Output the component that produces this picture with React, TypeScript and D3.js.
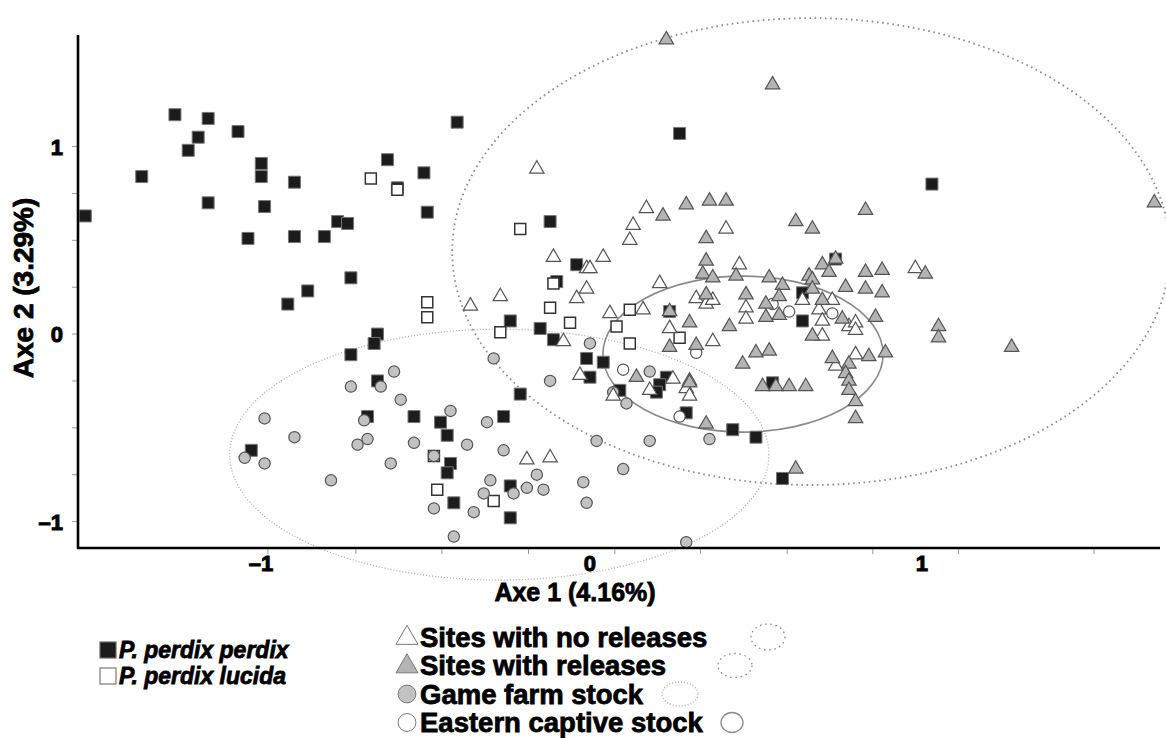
import React, { useEffect, useRef } from "react";
import * as d3 from "d3";

// P. perdix perdix (filled black squares)
const perdixPerdix: [number, number][] = [
  [-1.52, 0.63], [-1.25, 1.17], [-1.15, 1.15], [-1.18, 1.05], [-1.21, 0.98],
  [-1.06, 1.08], [-1.35, 0.84], [-0.99, 0.91], [-0.99, 0.84], [-0.89, 0.81],
  [-1.15, 0.7], [-0.98, 0.68], [-1.03, 0.51], [-0.89, 0.52], [-0.8, 0.52],
  [-0.76, 0.6], [-0.73, 0.59], [-0.85, 0.23], [-0.91, 0.16], [-0.72, 0.3],
  [-0.4, 1.13], [-0.61, 0.93], [-0.5, 0.86], [-0.58, 0.78], [-0.49, 0.65],
  [-0.12, 0.6], [-0.04, 0.37], [-0.1, 0.28], [-0.24, 0.07], [-0.15, 0.03],
  [-0.11, -0.03], [-0.64, 0.0], [-0.65, -0.05], [-0.72, -0.11], [-0.01, -0.13],
  [0.04, -0.15], [-0.64, -0.25], [-0.21, -0.32], [0.0, -0.23], [-0.67, -0.44],
  [-0.53, -0.44], [-0.45, -0.47], [-0.43, -0.54], [-0.26, -0.44], [-0.42, -0.69],
  [-0.43, -0.74], [-0.24, -0.81], [-0.41, -0.9], [-0.24, -0.98], [-1.02, -0.62],
  [0.27, 1.07], [1.03, 0.8], [0.74, 0.4], [0.64, 0.22], [0.24, 0.12],
  [0.23, -0.23], [0.21, -0.27], [0.2, -0.31], [0.09, -0.3], [0.29, -0.42],
  [0.43, -0.51], [0.5, -0.55], [0.58, -0.77], [0.64, 0.07], [0.55, -0.26],
];

// P. perdix lucida (open squares)
const perdixLucida: [number, number][] = [
  [-0.66, 0.83], [-0.58, 0.77], [-0.49, 0.17], [-0.49, 0.09], [-0.21, 0.56],
  [-0.11, 0.27], [-0.12, 0.14], [-0.06, 0.06], [-0.27, 0.01], [-0.47, -0.65],
  [-0.46, -0.83], [-0.29, -0.89], [0.12, 0.13], [0.08, 0.04], [0.27, -0.02],
  [0.12, -0.05],
];

// Sites with no releases (open triangles)
const noReleases: [number, number][] = [
  [-0.16, 0.88], [-0.11, 0.41], [0.04, 0.41], [-0.01, 0.35], [0.0, 0.35],
  [-0.01, 0.24], [-0.04, 0.19], [-0.27, 0.2], [-0.36, 0.15], [-0.08, -0.04],
  [-0.03, -0.22], [-0.19, -0.67], [-0.12, -0.66], [0.17, 0.67], [0.13, 0.58],
  [0.12, 0.5], [0.41, 0.56], [0.45, 0.37], [0.21, 0.27], [0.98, 0.35],
  [0.32, 0.19], [0.35, 0.16], [0.37, 0.18], [0.47, 0.14], [0.47, 0.08],
  [0.06, 0.11], [0.16, 0.13], [0.24, 0.03], [0.37, -0.04], [0.25, -0.24],
  [0.18, -0.3], [0.3, -0.25], [0.29, -0.29], [0.3, -0.33], [0.64, 0.18],
  [0.73, 0.18], [0.69, 0.13], [0.7, 0.07], [0.78, 0.04], [0.8, 0.06],
  [0.8, 0.02], [0.7, -0.01], [0.74, -0.17], [0.8, -0.11], [0.07, -0.33],
];

// Sites with releases (grey triangles)
const withReleases: [number, number][] = [
  [0.23, 1.57], [0.55, 1.33], [0.29, 0.69], [0.36, 0.71], [0.41, 0.71],
  [0.22, 0.63], [0.35, 0.51], [0.62, 0.6], [0.67, 0.56], [0.83, 0.66],
  [0.74, 0.4], [0.35, 0.39], [0.34, 0.32], [0.37, 0.3], [0.44, 0.31],
  [0.54, 0.3], [0.58, 0.26], [0.7, 0.37], [0.72, 0.33], [0.66, 0.31],
  [0.67, 0.29], [0.67, 0.24], [0.77, 0.25], [0.83, 0.33], [0.88, 0.34],
  [0.83, 0.24], [0.88, 0.22], [0.47, 0.21], [1.7, 0.7], [1.01, 0.32],
  [1.05, 0.04], [1.05, -0.02], [1.27, -0.07], [0.89, -0.1], [0.35, 0.21],
  [0.24, 0.12], [0.3, 0.06], [0.42, 0.04], [0.24, -0.07], [0.32, -0.06],
  [0.5, -0.1], [0.46, -0.16], [0.14, -0.23], [0.35, -0.48], [0.62, -0.72],
  [0.57, 0.2], [0.53, 0.16], [0.57, 0.1], [0.53, 0.09], [0.7, 0.18],
  [0.76, 0.08], [0.86, 0.09], [0.67, -0.01], [0.54, -0.09], [0.73, -0.13],
  [0.84, -0.12], [0.78, -0.16], [0.77, -0.21], [0.78, -0.25], [0.78, -0.3],
  [0.8, -0.36], [0.8, -0.45], [0.52, -0.28], [0.56, -0.28], [0.6, -0.28],
  [0.65, -0.28], [0.3, -0.26],
];

// Game farm stock (grey circles)
const gameFarm: [number, number][] = [
  [0.0, -0.05], [-0.29, -0.13], [-0.59, -0.2], [-0.72, -0.28], [-0.63, -0.28],
  [-0.57, -0.35], [-0.12, -0.25], [-0.68, -0.46], [-0.42, -0.41], [-0.31, -0.47],
  [-0.67, -0.56], [-0.7, -0.59], [-0.53, -0.58], [-0.37, -0.59], [-0.26, -0.62],
  [0.02, -0.57], [-0.6, -0.69], [-0.47, -0.65], [-0.3, -0.78], [-0.16, -0.75],
  [-0.23, -0.85], [-0.19, -0.82], [-0.14, -0.83], [-0.32, -0.85], [-0.47, -0.93],
  [-0.35, -0.95], [-0.41, -1.08], [-0.02, -0.79], [-0.01, -0.9], [-0.98, -0.45],
  [-0.89, -0.55], [-1.04, -0.66], [-0.98, -0.69], [-0.78, -0.78], [0.18, -0.2],
  [0.07, -0.31], [0.11, -0.37], [0.36, -0.56], [0.18, -0.57], [0.1, -0.72],
  [0.29, -1.11],
];

// Eastern captive stock (open circles)
const easternCaptive: [number, number][] = [
  [0.32, -0.1], [0.1, -0.19], [0.27, -0.44], [0.55, 0.16], [0.6, 0.12], [0.73, 0.11],
];

// dispersion ellipses: centre and semi-axes in axis units
const ellipses = [
  { group: "Game farm stock", cx: -0.273, cy: -0.643, rx: 0.812, ry: 0.669, kind: "fine" },
  { group: "Sites with releases", cx: 0.666, cy: 0.44, rx: 1.081, ry: 1.245, kind: "dotted" },
  { group: "Eastern captive stock", cx: 0.461, cy: -0.107, rx: 0.422, ry: 0.416, kind: "solid" },
];

const xDomain = [-1.542, 1.717];
const yDomain = [-1.141, 1.595];
const xTickLabels = [-1, 0, 1];
const yTickLabels = [-1, 0, 1];
const xMinorTicks = [-0.97, -0.705, -0.446, -0.185, 0.075, 0.333, 0.594, 0.852, 1.11, 1.518];
const yMinorTicks = [-1, -0.75, -0.5, -0.25, 0, 0.25, 0.5, 0.75, 1];

const subspeciesLegend = ["P. perdix perdix", "P. perdix lucida"];
const groupLegend = ["Sites with no releases", "Sites with releases", "Game farm stock", "Eastern captive stock"];

const FONT = "'Liberation Sans', Arial, Helvetica, sans-serif";

const styles: Record<string, any> = {
  perdix: { fill: "#1c1c1c", stroke: "#777", sw: 1 },
  lucida: { fill: "#fff", stroke: "#333", sw: 1.5 },
  noRel: { fill: "#fff", stroke: "#555", sw: 1.2 },
  rel: { fill: "#b4b4b4", stroke: "#555", sw: 1.2 },
  farm: { fill: "#c2c2c2", stroke: "#555", sw: 1.2 },
  east: { fill: "#fff", stroke: "#555", sw: 1.2 },
};

const App = () => {
  const svgRef = useRef<SVGSVGElement>(null);

  useEffect(() => {
    const svg = d3.select(svgRef.current);
    svg.selectAll("*").remove();

    const x = d3.scaleLinear().domain(xDomain).range([78, 1160]);
    const y = d3.scaleLinear().domain(yDomain).range([548, 35]);

    // Ellipses
    const dash: Record<string, any> = {
      fine: { stroke: "#a8a8a8", w: 1.2, d: "1 2" },
      dotted: { stroke: "#8c8c8c", w: 1.8, d: "1.6 3.6" },
      solid: { stroke: "#8a8a8a", w: 1.6, d: null },
    };
    svg.append("g")
      .selectAll("ellipse")
      .data(ellipses)
      .join("ellipse")
      .attr("cx", d => x(d.cx))
      .attr("cy", d => y(d.cy))
      .attr("rx", d => x(d.cx + d.rx) - x(d.cx))
      .attr("ry", d => y(d.cy) - y(d.cy + d.ry))
      .attr("fill", "none")
      .attr("stroke", d => dash[d.kind].stroke)
      .attr("stroke-width", d => dash[d.kind].w)
      .attr("stroke-dasharray", d => dash[d.kind].d);

    const drawSeries = (data: [number, number][], type: d3.SymbolType, size: number, st: any) => {
      svg.append("g")
        .selectAll("path")
        .data(data)
        .join("path")
        .attr("transform", d => `translate(${x(d[0])},${y(d[1])})`)
        .attr("d", d3.symbol().type(type).size(size)())
        .attr("fill", st.fill)
        .attr("stroke", st.stroke)
        .attr("stroke-width", st.sw);
    };

    drawSeries(perdixPerdix, d3.symbolSquare, 144, styles.perdix);
    drawSeries(perdixLucida, d3.symbolSquare, 121, styles.lucida);
    drawSeries(gameFarm, d3.symbolCircle, 100, styles.farm);
    drawSeries(easternCaptive, d3.symbolCircle, 100, styles.east);
    drawSeries(noReleases, d3.symbolTriangle, 90, styles.noRel);
    drawSeries(withReleases, d3.symbolTriangle, 90, styles.rel);

    // Axes
    const axes = svg.append("g");
    axes.selectAll("line.ytick")
      .data(yMinorTicks)
      .join("line")
      .attr("x1", 72).attr("x2", 78)
      .attr("y1", d => y(d)).attr("y2", d => y(d))
      .attr("stroke", "#999").attr("stroke-width", 1);
    axes.selectAll("line.xtick")
      .data(xMinorTicks)
      .join("line")
      .attr("x1", d => x(d)).attr("x2", d => x(d))
      .attr("y1", 548).attr("y2", 554)
      .attr("stroke", "#999").attr("stroke-width", 1);
    axes.append("line")
      .attr("x1", 78).attr("x2", 78).attr("y1", 35).attr("y2", 549)
      .attr("stroke", "#000").attr("stroke-width", 2.6);
    axes.append("line")
      .attr("x1", 77).attr("x2", 1160).attr("y1", 548).attr("y2", 548)
      .attr("stroke", "#000").attr("stroke-width", 2.6);

    const heavy = (sel: any, sw = 0.8) => sel
      .attr("font-family", FONT)
      .attr("font-weight", "bold")
      .attr("fill", "#000")
      .attr("stroke", "#000")
      .attr("stroke-width", sw);

    const fmt = (v: number) => (v < 0 ? "\u2013" + Math.abs(v) : String(v));

    axes.selectAll("text.ylab")
      .data(yTickLabels)
      .join("text")
      .attr("x", 63)
      .attr("y", d => y(d) + 8)
      .attr("text-anchor", "end")
      .attr("font-size", 22)
      .call(heavy, 1)
      .text(fmt);

    axes.selectAll("text.xlab")
      .data(xTickLabels)
      .join("text")
      .attr("x", d => x(d) + (d < 0 ? 3 : 0))
      .attr("y", 571)
      .attr("text-anchor", "middle")
      .attr("font-size", 22)
      .call(heavy, 1)
      .text(fmt);

    svg.append("text")
      .attr("x", 575)
      .attr("y", 601)
      .attr("text-anchor", "middle")
      .attr("font-size", 25)
      .call(heavy)
      .text("Axe 1 (4.16%)");

    svg.append("text")
      .attr("transform", "translate(33,288) rotate(-90)")
      .attr("text-anchor", "middle")
      .attr("font-size", 28)
      .call(heavy)
      .text("Axe 2 (3.29%)");

    // Legend: subspecies
    const leg1 = svg.append("g");
    subspeciesLegend.forEach((label, i) => {
      const cy = 650 + i * 26;
      leg1.append("rect")
        .attr("x", 100).attr("y", cy - 8)
        .attr("width", 16).attr("height", 16)
        .attr("fill", i === 0 ? "#1c1c1c" : "#fff")
        .attr("stroke", i === 0 ? "#666" : "#777")
        .attr("stroke-width", 1.2);
      leg1.append("text")
        .attr("x", 119).attr("y", cy + 8)
        .attr("font-size", 23)
        .attr("font-style", "italic")
        .call(heavy)
        .text(label);
    });

    // Legend: groups
    const leg2 = svg.append("g");
    const symStyle = [styles.noRel, styles.rel, styles.farm, styles.east];
    const symType = [d3.symbolTriangle, d3.symbolTriangle, d3.symbolCircle, d3.symbolCircle];
    const symSize = [210, 210, 250, 250];
    const ellX = [768, 735, 680, 732];
    const ellR = [[17, 13], [17, 12], [18, 12], [11, 10]];
    const ellKind = ["dotted", "dotted", "fine", "solid"];
    groupLegend.forEach((label, i) => {
      const cy = 637 + i * 28.5;
      leg2.append("path")
        .attr("transform", `translate(407,${cy + (i < 2 ? 1 : 0)})`)
        .attr("d", d3.symbol().type(symType[i]).size(symSize[i])())
        .attr("fill", symStyle[i].fill)
        .attr("stroke", "#777")
        .attr("stroke-width", 1);
      leg2.append("text")
        .attr("x", 420).attr("y", cy + 9.5)
        .attr("font-size", 27.5)
        .call(heavy)
        .text(label);
      leg2.append("ellipse")
        .attr("cx", ellX[i]).attr("cy", cy)
        .attr("rx", ellR[i][0]).attr("ry", ellR[i][1])
        .attr("fill", "none")
        .attr("stroke", dash[ellKind[i]].stroke)
        .attr("stroke-width", 1.3)
        .attr("stroke-dasharray", dash[ellKind[i]].d);
    });
  }, []);

  return (
    <svg
      ref={svgRef}
      width={1166}
      height={738}
      style={{ position: "absolute", left: 0, top: 0, background: "#fff" }}
    />
  );
};

export default App;
